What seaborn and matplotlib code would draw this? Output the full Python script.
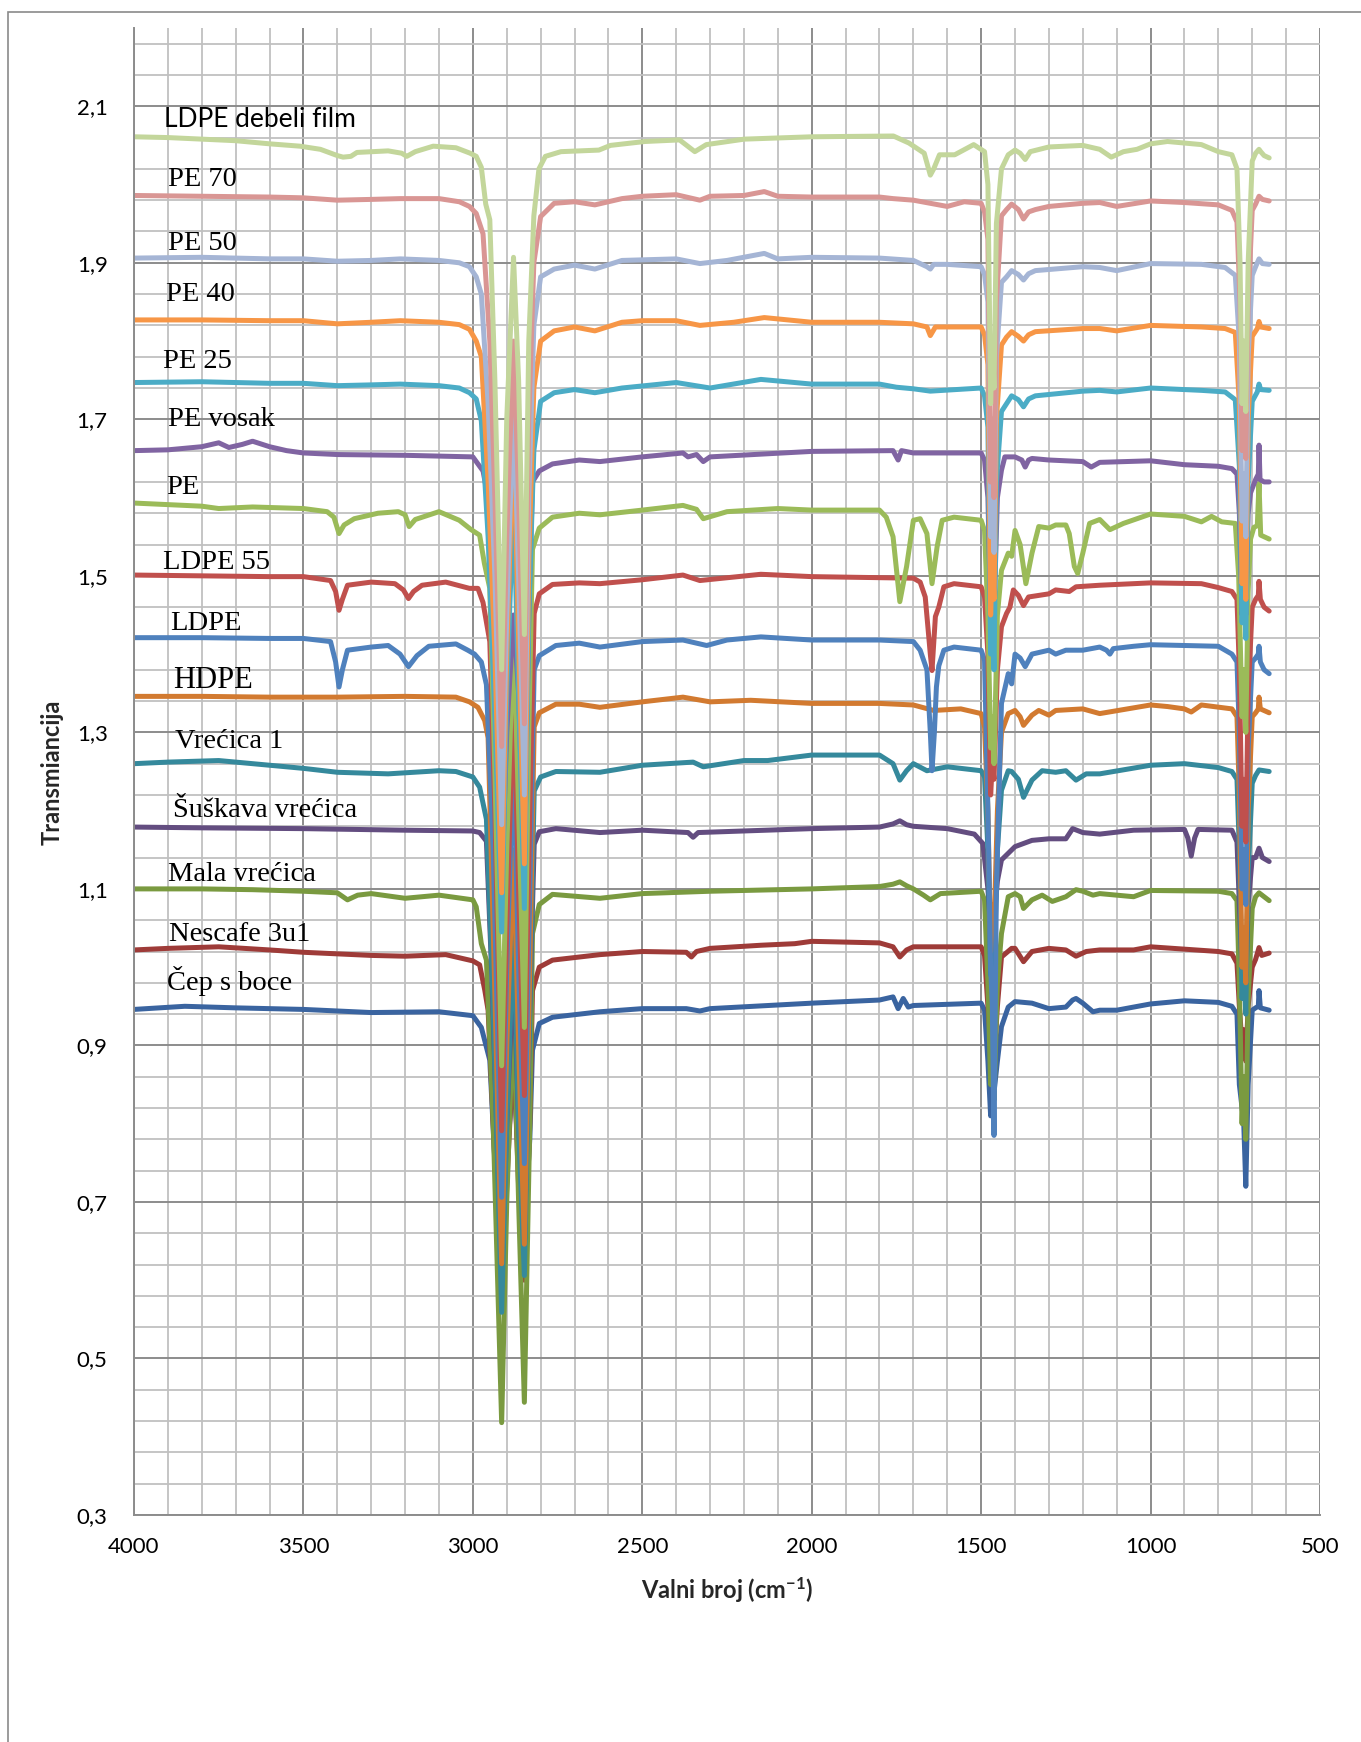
import numpy as np
import pandas as pd
import seaborn as sns
import matplotlib.pyplot as plt
from matplotlib.ticker import FixedLocator, FuncFormatter
from matplotlib.patches import Rectangle

# --- FTIR spectra: (wavenumber cm-1, transmittance) ---
ldpe_debeli_film = [
    (4000, 2.061), (3900, 2.060), (3800, 2.058), (3700, 2.056), (3600, 2.052), (3510, 2.049),
    (3450, 2.045), (3400, 2.037), (3383, 2.035), (3360, 2.036), (3342, 2.041), (3250, 2.043),
    (3210, 2.040), (3195, 2.036), (3170, 2.042), (3117, 2.049), (3050, 2.047), (3008, 2.040),
    (2990, 2.036), (2975, 2.022), (2962, 1.975), (2950, 1.955), (2935, 1.75), (2915, 1.38),
    (2900, 1.70), (2880, 1.907), (2865, 1.75), (2848, 1.425), (2835, 1.80), (2820, 1.96),
    (2805, 2.02), (2786, 2.036), (2740, 2.042), (2628, 2.044), (2594, 2.050), (2492, 2.055),
    (2390, 2.057), (2345, 2.042), (2311, 2.051), (2199, 2.058), (2000, 2.061), (1759, 2.062),
    (1713, 2.053), (1668, 2.040), (1650, 2.012), (1640, 2.020), (1623, 2.038), (1578, 2.038),
    (1522, 2.051), (1490, 2.042), (1480, 2.00), (1472, 1.72), (1467, 1.80), (1462, 1.74),
    (1455, 1.95), (1440, 2.02), (1420, 2.038), (1400, 2.044), (1385, 2.040), (1370, 2.032),
    (1355, 2.042), (1300, 2.048), (1200, 2.050), (1150, 2.045), (1116, 2.035), (1080, 2.042),
    (1040, 2.045), (1000, 2.052), (950, 2.055), (850, 2.051), (800, 2.042), (760, 2.038),
    (745, 2.020), (736, 1.90), (730, 1.72), (725, 1.80), (719, 1.71), (712, 1.90), (700, 2.03),
    (690, 2.040), (680, 2.045), (675, 2.042), (665, 2.037), (650, 2.034),
]
pe_70 = [
    (4000, 1.986), (3800, 1.985), (3600, 1.984), (3500, 1.983), (3400, 1.980), (3300, 1.981),
    (3214, 1.982), (3100, 1.982), (3040, 1.978), (3010, 1.972), (2990, 1.963), (2970, 1.937),
    (2950, 1.80), (2935, 1.60), (2915, 1.282), (2900, 1.55), (2880, 1.80), (2865, 1.60),
    (2848, 1.311), (2835, 1.70), (2820, 1.90), (2800, 1.959), (2760, 1.976), (2700, 1.978),
    (2640, 1.974), (2560, 1.982), (2500, 1.985), (2400, 1.987), (2330, 1.980), (2300, 1.985),
    (2200, 1.986), (2140, 1.991), (2100, 1.985), (2000, 1.984), (1800, 1.984), (1760, 1.982),
    (1700, 1.980), (1600, 1.972), (1550, 1.978), (1500, 1.976), (1490, 1.965), (1480, 1.93),
    (1472, 1.62), (1467, 1.70), (1462, 1.60), (1455, 1.85), (1440, 1.960), (1425, 1.968),
    (1410, 1.975), (1390, 1.968), (1375, 1.956), (1360, 1.965), (1340, 1.968), (1300, 1.972),
    (1200, 1.976), (1150, 1.977), (1100, 1.972), (1000, 1.979), (900, 1.977), (800, 1.974),
    (760, 1.967), (745, 1.952), (736, 1.85), (730, 1.66), (725, 1.72), (719, 1.65), (712, 1.85),
    (700, 1.967), (690, 1.975), (680, 1.985), (670, 1.981), (650, 1.979),
]
pe_50 = [
    (4000, 1.906), (3800, 1.907), (3700, 1.906), (3600, 1.905), (3500, 1.905), (3400, 1.902),
    (3300, 1.903), (3214, 1.905), (3100, 1.903), (3040, 1.900), (3010, 1.895), (2990, 1.882),
    (2975, 1.86), (2955, 1.72), (2935, 1.50), (2915, 1.182), (2900, 1.45), (2880, 1.72),
    (2865, 1.50), (2848, 1.22), (2835, 1.60), (2820, 1.82), (2800, 1.882), (2760, 1.892),
    (2700, 1.897), (2640, 1.892), (2560, 1.903), (2400, 1.905), (2330, 1.899), (2250, 1.903),
    (2140, 1.912), (2100, 1.905), (2000, 1.907), (1800, 1.906), (1700, 1.903), (1660, 1.895),
    (1650, 1.892), (1640, 1.898), (1600, 1.898), (1500, 1.895), (1490, 1.885), (1480, 1.85),
    (1472, 1.55), (1467, 1.62), (1462, 1.53), (1455, 1.78), (1440, 1.875), (1425, 1.882),
    (1410, 1.890), (1390, 1.885), (1375, 1.878), (1360, 1.886), (1340, 1.890), (1200, 1.895),
    (1150, 1.894), (1100, 1.890), (1000, 1.899), (850, 1.898), (780, 1.894), (750, 1.884),
    (738, 1.80), (730, 1.57), (725, 1.63), (719, 1.55), (712, 1.78), (700, 1.884), (690, 1.895),
    (680, 1.905), (670, 1.899), (650, 1.898),
]
pe_40 = [
    (4000, 1.827), (3800, 1.827), (3600, 1.826), (3500, 1.826), (3400, 1.822), (3300, 1.824),
    (3214, 1.826), (3100, 1.824), (3040, 1.821), (3010, 1.815), (2990, 1.800), (2975, 1.78),
    (2955, 1.62), (2935, 1.40), (2915, 1.095), (2900, 1.40), (2880, 1.686), (2865, 1.42),
    (2848, 1.132), (2835, 1.52), (2820, 1.74), (2800, 1.800), (2760, 1.813), (2700, 1.818),
    (2640, 1.813), (2560, 1.824), (2500, 1.826), (2400, 1.826), (2330, 1.820), (2230, 1.824),
    (2140, 1.830), (2000, 1.824), (1800, 1.824), (1700, 1.822), (1660, 1.818), (1650, 1.807),
    (1635, 1.818), (1500, 1.818), (1490, 1.808), (1480, 1.77), (1472, 1.45), (1467, 1.52),
    (1462, 1.47), (1455, 1.70), (1440, 1.795), (1425, 1.805), (1410, 1.812), (1390, 1.806),
    (1375, 1.800), (1360, 1.808), (1340, 1.812), (1200, 1.816), (1150, 1.816), (1100, 1.813),
    (1000, 1.820), (850, 1.818), (780, 1.816), (750, 1.811), (738, 1.72), (730, 1.49),
    (725, 1.55), (719, 1.47), (712, 1.70), (700, 1.806), (685, 1.816), (680, 1.825),
    (675, 1.818), (650, 1.816),
]
pe_25 = [
    (4000, 1.747), (3800, 1.748), (3600, 1.746), (3500, 1.746), (3400, 1.743), (3300, 1.744),
    (3214, 1.745), (3100, 1.743), (3040, 1.740), (3010, 1.734), (2990, 1.726), (2975, 1.698),
    (2955, 1.55), (2935, 1.32), (2915, 1.045), (2900, 1.35), (2880, 1.595), (2865, 1.35),
    (2848, 1.075), (2835, 1.45), (2820, 1.66), (2800, 1.723), (2760, 1.734), (2700, 1.738),
    (2640, 1.734), (2560, 1.740), (2400, 1.747), (2300, 1.740), (2150, 1.751), (2000, 1.745),
    (1800, 1.745), (1750, 1.741), (1700, 1.739), (1650, 1.736), (1500, 1.740), (1490, 1.730),
    (1480, 1.69), (1472, 1.40), (1467, 1.46), (1462, 1.38), (1455, 1.62), (1440, 1.710),
    (1425, 1.720), (1410, 1.730), (1390, 1.725), (1375, 1.716), (1360, 1.726), (1340, 1.730),
    (1200, 1.736), (1150, 1.737), (1100, 1.735), (1000, 1.740), (850, 1.737), (780, 1.735),
    (750, 1.725), (738, 1.64), (730, 1.44), (725, 1.49), (719, 1.42), (712, 1.62), (700, 1.723),
    (685, 1.735), (680, 1.745), (675, 1.738), (650, 1.737),
]
pe_vosak = [
    (4000, 1.660), (3900, 1.661), (3800, 1.665), (3750, 1.670), (3720, 1.664), (3680, 1.668),
    (3650, 1.672), (3600, 1.665), (3550, 1.660), (3500, 1.657), (3400, 1.655), (3200, 1.654),
    (3000, 1.652), (2970, 1.634), (2956, 1.602), (2940, 1.40), (2915, 1.10), (2900, 1.30),
    (2880, 1.45), (2865, 1.35), (2848, 1.12), (2835, 1.45), (2824, 1.620), (2804, 1.634),
    (2765, 1.643), (2686, 1.648), (2625, 1.646), (2500, 1.652), (2380, 1.657), (2365, 1.652),
    (2340, 1.655), (2320, 1.646), (2300, 1.652), (2000, 1.659), (1760, 1.660), (1745, 1.648),
    (1735, 1.660), (1700, 1.657), (1500, 1.657), (1490, 1.648), (1480, 1.60), (1472, 1.45),
    (1467, 1.50), (1462, 1.45), (1452, 1.60), (1440, 1.635), (1430, 1.652), (1400, 1.652),
    (1380, 1.648), (1370, 1.639), (1360, 1.648), (1350, 1.650), (1300, 1.648), (1200, 1.646),
    (1175, 1.639), (1150, 1.645), (1000, 1.647), (900, 1.642), (800, 1.640), (760, 1.637),
    (745, 1.630), (738, 1.58), (730, 1.45), (725, 1.50), (719, 1.45), (712, 1.58), (705, 1.606),
    (690, 1.623), (682, 1.630), (680, 1.667), (677, 1.623), (665, 1.620), (650, 1.620),
]
pe = [
    (4000, 1.593), (3900, 1.591), (3800, 1.589), (3750, 1.586), (3650, 1.588), (3500, 1.586),
    (3430, 1.582), (3410, 1.575), (3395, 1.554), (3380, 1.565), (3350, 1.573), (3280, 1.580),
    (3220, 1.582), (3200, 1.578), (3188, 1.563), (3170, 1.572), (3100, 1.582), (3040, 1.571),
    (3005, 1.559), (2980, 1.552), (2966, 1.516), (2950, 1.484), (2935, 1.25), (2915, 0.874),
    (2900, 1.15), (2880, 1.436), (2865, 1.20), (2848, 0.923), (2835, 1.30), (2824, 1.534),
    (2804, 1.561), (2765, 1.575), (2686, 1.580), (2625, 1.578), (2500, 1.584), (2380, 1.590),
    (2340, 1.585), (2320, 1.573), (2250, 1.582), (2100, 1.586), (2000, 1.584), (1800, 1.584),
    (1780, 1.575), (1760, 1.550), (1740, 1.467), (1720, 1.512), (1700, 1.571), (1680, 1.573),
    (1660, 1.554), (1645, 1.490), (1630, 1.537), (1615, 1.571), (1580, 1.575), (1500, 1.571),
    (1490, 1.558), (1480, 1.45), (1472, 1.28), (1467, 1.32), (1462, 1.26), (1452, 1.45),
    (1440, 1.507), (1420, 1.529), (1410, 1.525), (1400, 1.558), (1385, 1.540), (1368, 1.490),
    (1350, 1.529), (1330, 1.563), (1300, 1.561), (1280, 1.565), (1250, 1.565), (1240, 1.554),
    (1225, 1.512), (1215, 1.503), (1200, 1.529), (1180, 1.567), (1150, 1.572), (1120, 1.559),
    (1080, 1.567), (1000, 1.579), (900, 1.576), (850, 1.569), (820, 1.576), (790, 1.569),
    (750, 1.567), (740, 1.50), (730, 1.32), (725, 1.38), (719, 1.30), (712, 1.48), (705, 1.547),
    (695, 1.562), (685, 1.564), (680, 1.618), (675, 1.552), (650, 1.547),
]
ldpe_55 = [
    (4000, 1.501), (3800, 1.500), (3600, 1.499), (3500, 1.499), (3420, 1.494), (3405, 1.480),
    (3395, 1.456), (3385, 1.470), (3370, 1.488), (3300, 1.492), (3230, 1.490), (3205, 1.482),
    (3190, 1.471), (3175, 1.480), (3150, 1.488), (3080, 1.492), (3010, 1.484), (2985, 1.484),
    (2970, 1.466), (2950, 1.416), (2935, 1.20), (2915, 0.791), (2900, 1.05), (2880, 1.352),
    (2865, 1.10), (2848, 0.836), (2832, 1.20), (2819, 1.452), (2804, 1.477), (2765, 1.489),
    (2686, 1.491), (2625, 1.490), (2500, 1.495), (2380, 1.501), (2330, 1.494), (2150, 1.502),
    (2000, 1.499), (1700, 1.497), (1680, 1.492), (1665, 1.473), (1650, 1.400), (1645, 1.379),
    (1635, 1.448), (1625, 1.460), (1610, 1.486), (1580, 1.490), (1500, 1.486), (1490, 1.473),
    (1480, 1.40), (1472, 1.22), (1467, 1.26), (1462, 1.24), (1452, 1.38), (1440, 1.435),
    (1425, 1.452), (1415, 1.460), (1405, 1.482), (1390, 1.475), (1375, 1.462), (1360, 1.473),
    (1300, 1.477), (1280, 1.482), (1240, 1.480), (1220, 1.486), (1150, 1.488), (1000, 1.491),
    (850, 1.490), (800, 1.485), (760, 1.480), (745, 1.470), (738, 1.38), (730, 1.18),
    (725, 1.24), (719, 1.16), (712, 1.35), (700, 1.460), (690, 1.470), (682, 1.475),
    (680, 1.493), (676, 1.470), (665, 1.460), (650, 1.455),
]
ldpe = [
    (4000, 1.421), (3800, 1.421), (3600, 1.420), (3500, 1.420), (3420, 1.416), (3405, 1.390),
    (3395, 1.358), (3385, 1.380), (3370, 1.405), (3300, 1.409), (3250, 1.411), (3215, 1.400),
    (3190, 1.384), (3165, 1.398), (3130, 1.410), (3050, 1.413), (3015, 1.405), (2995, 1.400),
    (2975, 1.390), (2960, 1.361), (2940, 1.15), (2915, 0.706), (2900, 1.00), (2880, 1.27),
    (2865, 1.00), (2848, 0.749), (2832, 1.10), (2819, 1.380), (2804, 1.398), (2755, 1.411),
    (2686, 1.414), (2625, 1.409), (2500, 1.416), (2380, 1.418), (2310, 1.411), (2250, 1.418),
    (2150, 1.422), (2000, 1.418), (1800, 1.418), (1700, 1.416), (1680, 1.405), (1660, 1.380),
    (1650, 1.300), (1645, 1.251), (1638, 1.300), (1632, 1.358), (1625, 1.385), (1610, 1.405),
    (1580, 1.409), (1500, 1.405), (1490, 1.392), (1480, 1.20), (1472, 1.00), (1467, 0.95),
    (1462, 0.785), (1455, 1.10), (1440, 1.337), (1420, 1.375), (1410, 1.362), (1400, 1.400),
    (1385, 1.395), (1370, 1.384), (1350, 1.400), (1300, 1.405), (1280, 1.400), (1250, 1.405),
    (1200, 1.405), (1150, 1.409), (1130, 1.405), (1120, 1.400), (1110, 1.407), (1050, 1.410),
    (1000, 1.412), (800, 1.410), (760, 1.400), (745, 1.390), (738, 1.30), (730, 1.10),
    (725, 1.15), (719, 1.08), (712, 1.28), (700, 1.390), (690, 1.395), (682, 1.400),
    (680, 1.410), (676, 1.390), (665, 1.380), (650, 1.375),
]
hdpe = [
    (4000, 1.346), (3800, 1.346), (3600, 1.345), (3400, 1.345), (3200, 1.346), (3050, 1.345),
    (3010, 1.339), (2985, 1.332), (2965, 1.315), (2955, 1.293), (2940, 1.05), (2915, 0.621),
    (2900, 0.90), (2880, 1.15), (2865, 0.90), (2848, 0.646), (2832, 1.00), (2819, 1.307),
    (2804, 1.325), (2755, 1.336), (2686, 1.336), (2625, 1.332), (2500, 1.339), (2380, 1.345),
    (2300, 1.339), (2180, 1.341), (2000, 1.337), (1800, 1.337), (1700, 1.335), (1640, 1.328),
    (1560, 1.330), (1500, 1.324), (1490, 1.307), (1480, 1.20), (1472, 1.02), (1467, 1.06),
    (1462, 1.05), (1452, 1.20), (1440, 1.300), (1420, 1.324), (1400, 1.328), (1385, 1.320),
    (1375, 1.309), (1350, 1.322), (1330, 1.328), (1300, 1.322), (1280, 1.328), (1200, 1.330),
    (1150, 1.324), (1000, 1.335), (950, 1.333), (900, 1.330), (880, 1.326), (850, 1.335),
    (760, 1.330), (745, 1.320), (738, 1.22), (730, 1.00), (725, 1.05), (719, 0.98), (712, 1.20),
    (700, 1.320), (690, 1.325), (682, 1.330), (680, 1.345), (676, 1.330), (650, 1.325),
]
vrecica_1 = [
    (4000, 1.260), (3900, 1.262), (3750, 1.264), (3700, 1.262), (3600, 1.258), (3500, 1.254),
    (3400, 1.249), (3250, 1.247), (3100, 1.251), (3050, 1.250), (3000, 1.243), (2980, 1.230),
    (2960, 1.189), (2940, 0.95), (2915, 0.559), (2900, 0.80), (2880, 1.05), (2865, 0.80),
    (2848, 0.606), (2832, 0.95), (2819, 1.225), (2800, 1.243), (2755, 1.250), (2625, 1.249),
    (2500, 1.258), (2350, 1.262), (2320, 1.256), (2200, 1.264), (2130, 1.264), (2000, 1.271),
    (1800, 1.271), (1760, 1.260), (1740, 1.239), (1720, 1.251), (1700, 1.260), (1660, 1.251),
    (1600, 1.256), (1500, 1.251), (1490, 1.243), (1480, 1.15), (1472, 0.99), (1467, 1.02),
    (1462, 1.00), (1452, 1.15), (1440, 1.226), (1420, 1.251), (1410, 1.250), (1390, 1.240),
    (1375, 1.217), (1350, 1.239), (1320, 1.251), (1280, 1.249), (1250, 1.251), (1230, 1.243),
    (1220, 1.239), (1190, 1.247), (1150, 1.247), (1000, 1.258), (900, 1.260), (800, 1.255),
    (760, 1.250), (745, 1.240), (738, 1.15), (730, 0.96), (725, 1.00), (719, 0.94), (712, 1.12),
    (700, 1.235), (690, 1.245), (680, 1.252), (650, 1.250),
]
suskava_vrecica = [
    (4000, 1.179), (3800, 1.178), (3500, 1.177), (3200, 1.175), (3000, 1.174), (2980, 1.172),
    (2960, 1.161), (2945, 1.00), (2915, 0.60), (2900, 0.80), (2880, 1.00), (2865, 0.80),
    (2848, 0.64), (2832, 0.95), (2819, 1.157), (2804, 1.173), (2755, 1.177), (2625, 1.172),
    (2500, 1.175), (2365, 1.172), (2350, 1.166), (2335, 1.172), (2000, 1.177), (1800, 1.179),
    (1760, 1.183), (1740, 1.187), (1720, 1.182), (1700, 1.180), (1600, 1.177), (1520, 1.170),
    (1495, 1.158), (1480, 1.10), (1472, 1.05), (1467, 1.08), (1462, 1.06), (1452, 1.11),
    (1440, 1.137), (1400, 1.154), (1350, 1.162), (1300, 1.164), (1250, 1.164), (1230, 1.177),
    (1200, 1.172), (1150, 1.170), (1050, 1.175), (900, 1.176), (890, 1.165), (880, 1.142),
    (870, 1.165), (860, 1.176), (760, 1.175), (745, 1.160), (738, 1.08), (730, 1.00),
    (725, 1.03), (719, 0.98), (712, 1.08), (700, 1.140), (690, 1.140), (680, 1.152),
    (670, 1.140), (650, 1.135),
]
mala_vrecica = [
    (4000, 1.100), (3800, 1.100), (3650, 1.099), (3500, 1.097), (3400, 1.095), (3370, 1.086),
    (3340, 1.092), (3300, 1.094), (3200, 1.088), (3100, 1.092), (3000, 1.086), (2990, 1.077),
    (2975, 1.030), (2960, 1.009), (2940, 0.80), (2915, 0.418), (2900, 0.70), (2880, 0.951),
    (2865, 0.70), (2848, 0.444), (2832, 0.80), (2824, 1.043), (2804, 1.080), (2765, 1.093),
    (2625, 1.088), (2500, 1.094), (2300, 1.097), (2000, 1.100), (1800, 1.103), (1760, 1.106),
    (1740, 1.109), (1720, 1.104), (1700, 1.100), (1670, 1.092), (1650, 1.086), (1635, 1.090),
    (1620, 1.094), (1500, 1.097), (1490, 1.086), (1480, 0.98), (1472, 0.85), (1467, 0.88),
    (1462, 0.83), (1452, 0.98), (1440, 1.043), (1420, 1.090), (1400, 1.094), (1385, 1.090),
    (1375, 1.075), (1350, 1.086), (1320, 1.092), (1290, 1.084), (1250, 1.090), (1220, 1.099),
    (1200, 1.097), (1170, 1.092), (1150, 1.094), (1050, 1.090), (1000, 1.098), (800, 1.097),
    (760, 1.094), (745, 1.085), (738, 0.98), (730, 0.80), (725, 0.86), (719, 0.78), (712, 0.96),
    (700, 1.075), (690, 1.090), (680, 1.095), (650, 1.085),
]
nescafe_3u1 = [
    (4000, 1.022), (3900, 1.024), (3750, 1.026), (3600, 1.022), (3500, 1.019), (3300, 1.015),
    (3200, 1.014), (3080, 1.016), (3000, 1.008), (2980, 1.003), (2965, 0.971), (2955, 0.945),
    (2940, 0.80), (2915, 0.56), (2900, 0.72), (2880, 0.90), (2865, 0.72), (2848, 0.60),
    (2832, 0.80), (2824, 0.970), (2804, 1.000), (2765, 1.009), (2625, 1.016), (2500, 1.020),
    (2370, 1.019), (2355, 1.013), (2340, 1.020), (2300, 1.024), (2150, 1.028), (2050, 1.030),
    (2000, 1.033), (1800, 1.031), (1760, 1.026), (1740, 1.013), (1720, 1.022), (1700, 1.026),
    (1500, 1.026), (1490, 1.015), (1480, 0.95), (1472, 0.90), (1467, 0.92), (1462, 0.88),
    (1452, 0.95), (1440, 1.013), (1410, 1.024), (1400, 1.024), (1375, 1.007), (1350, 1.020),
    (1300, 1.024), (1250, 1.022), (1220, 1.014), (1190, 1.020), (1150, 1.022), (1050, 1.022),
    (1000, 1.026), (800, 1.020), (760, 1.017), (745, 1.005), (738, 0.95), (730, 0.90),
    (725, 0.92), (719, 0.88), (712, 0.95), (700, 1.000), (690, 1.010), (680, 1.025),
    (672, 1.015), (650, 1.018),
]
cep_s_boce = [
    (4000, 0.946), (3850, 0.950), (3700, 0.948), (3500, 0.946), (3300, 0.942), (3100, 0.943),
    (3000, 0.938), (2975, 0.923), (2950, 0.881), (2935, 0.75), (2915, 0.62), (2900, 0.75),
    (2880, 0.87), (2865, 0.75), (2848, 0.66), (2832, 0.78), (2824, 0.894), (2804, 0.928),
    (2765, 0.936), (2625, 0.943), (2500, 0.947), (2370, 0.947), (2330, 0.944), (2300, 0.947),
    (2000, 0.954), (1800, 0.958), (1760, 0.962), (1745, 0.947), (1730, 0.960), (1715, 0.949),
    (1700, 0.951), (1500, 0.954), (1490, 0.945), (1480, 0.88), (1472, 0.81), (1467, 0.84),
    (1462, 0.84), (1452, 0.88), (1440, 0.924), (1420, 0.949), (1400, 0.956), (1350, 0.954),
    (1300, 0.947), (1250, 0.949), (1230, 0.958), (1220, 0.960), (1200, 0.954), (1170, 0.943),
    (1150, 0.945), (1100, 0.945), (1000, 0.953), (900, 0.957), (800, 0.955), (760, 0.950),
    (745, 0.940), (738, 0.85), (730, 0.82), (725, 0.80), (719, 0.72), (712, 0.85), (700, 0.945),
    (690, 0.948), (682, 0.950), (680, 0.970), (676, 0.948), (650, 0.945),
]

# name, data, colour, label baseline y, label x, label font
series = [
    ("LDPE debeli film", ldpe_debeli_film, "#C3D69B", 2.073, 3910, "sans"),
    ("PE 70", pe_70, "#D99694", 1.998, 3900, "serif"),
    ("PE 50", pe_50, "#A5B5D5", 1.9165, 3900, "serif"),
    ("PE 40", pe_40, "#F79646", 1.851, 3906, "serif"),
    ("PE 25", pe_25, "#4BACC6", 1.765, 3914, "serif"),
    ("PE vosak", pe_vosak, "#8064A2", 1.691, 3900, "serif"),
    ("PE", pe, "#9BBB59", 1.604, 3906, "serif"),
    ("LDPE 55", ldpe_55, "#C0504D", 1.509, 3914, "serif"),
    ("LDPE", ldpe, "#4F81BD", 1.431, 3894, "serif"),
    ("HDPE", hdpe, "#D27A30", 1.357, 3885, "serif"),
    ("Vrećica 1", vrecica_1, "#35899C", 1.280, 3879, "serif"),
    ("Šuškava vrećica", suskava_vrecica, "#634D80", 1.192, 3885, "serif"),
    ("Mala vrećica", mala_vrecica, "#7A9A40", 1.110, 3900, "serif"),
    ("Nescafe 3u1", nescafe_3u1, "#9E3B38", 1.034, 3897, "serif"),
    ("Čep s boce", cep_s_boce, "#3A64A0", 0.971, 3903, "serif"),
]

sns.set_theme(style="white")
plt.rcParams["font.family"] = ["Lato", "DejaVu Sans"]
plt.rcParams["mathtext.fontset"] = "custom"
plt.rcParams["mathtext.rm"] = "Lato:bold"
plt.rcParams["mathtext.it"] = "Lato:bold"
plt.rcParams["mathtext.bf"] = "Lato:bold"

# long table for seaborn
rows = []
for name, pts, *_ in series:
    for wn, tr in pts:
        rows.append((name, wn, tr))
df = pd.DataFrame(rows, columns=["sample", "wavenumber", "transmittance"])

W, H = 1361, 1742
fig = plt.figure(figsize=(W / 100, H / 100), dpi=100)
ax = fig.add_axes([134 / W, 1 - 1515 / H, 1186 / W, 1487 / H])

# outer chart frame (Excel chart area)
fig.patches.append(Rectangle((8 / W, -0.2), 2, 1.2 - 12 / H, transform=fig.transFigure,
                             fill=False, edgecolor="#8a8a8a", lw=1.2))

names = [s[0] for s in series]
palette = {s[0]: s[2] for s in series}
# first series ends up on top, as in the original
sns.lineplot(data=df, x="wavenumber", y="transmittance", hue="sample",
             hue_order=names[::-1], palette=palette, sort=False, estimator=None,
             legend=False, lw=3.6, ax=ax, solid_capstyle="round", solid_joinstyle="round")

ax.set_xlim(4000, 500)
ax.set_ylim(0.3, 2.2)
ax.xaxis.set_major_locator(FixedLocator([4000, 3500, 3000, 2500, 2000, 1500, 1000, 500]))
ax.xaxis.set_minor_locator(FixedLocator([v for v in range(500, 4001, 100) if v % 500]))
y_major = [round(0.3 + 0.2 * i, 2) for i in range(10)]
y_minor = [round(0.3 + 0.04 * i, 2) for i in range(48)]
ax.yaxis.set_major_locator(FixedLocator(y_major))
ax.yaxis.set_minor_locator(FixedLocator([v for v in y_minor if v not in y_major]))
ax.yaxis.set_major_formatter(FuncFormatter(lambda v, p: f"{v:.1f}".replace(".", ",")))

ax.set_axisbelow(True)
ax.grid(which="major", color="#8c8c8c", lw=1.4)
ax.grid(which="minor", color="#c0c0c0", lw=1.3)
for side in ["top", "right"]:
    ax.spines[side].set_visible(False)
for side in ["left", "bottom"]:
    ax.spines[side].set_color("#8c8c8c")
    ax.spines[side].set_linewidth(1.4)
ax.tick_params(which="major", direction="out", length=6, width=1.2, color="#8c8c8c",
               labelsize=16, labelcolor="black")
ax.tick_params(axis="y", which="major", pad=13)
ax.tick_params(axis="x", which="major", pad=10)
ax.tick_params(which="minor", length=0)
ax.set_xlabel("")
ax.set_ylabel("")

fig.text(727 / W, 1 - 1590 / H, "Valni broj (cm$^{-1}$)", ha="center", va="center",
         fontsize=17, fontweight="bold")
fig.text(52 / W, 1 - 772 / H, "Transmiancija", ha="center", va="center", rotation=90,
         fontsize=17, fontweight="bold")

for name, pts, color, ly, lx, kind in series:
    if kind == "sans":
        ax.text(lx, ly, name, fontsize=19, ha="left", va="baseline", color="black")
    else:
        size = 22 if name == "HDPE" else 20.5
        ax.text(lx, ly, name, fontsize=size, ha="left", va="baseline", color="black",
                family=["Liberation Serif", "DejaVu Serif"])

fig.savefig("out.png", dpi=100)
